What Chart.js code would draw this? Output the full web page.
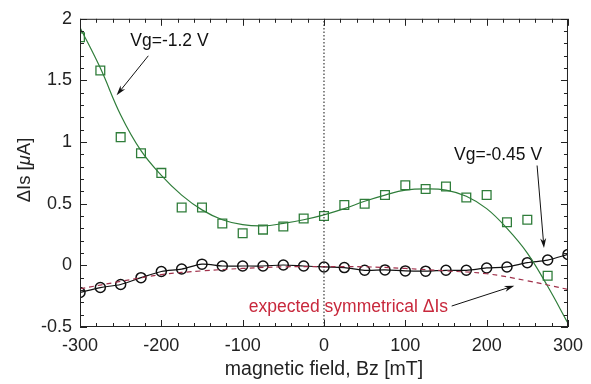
<!DOCTYPE html>
<html>
<head>
<meta charset="utf-8">
<script src="https://cdn.jsdelivr.net/npm/chart.js@4.4.1/dist/chart.umd.min.js"></script>
<style>
  html, body { margin: 0; padding: 0; background: #fff; }
  #wrap { width: 591px; height: 384px; }
</style>
</head>
<body>
<div id="wrap"><canvas id="chart" width="591" height="384"></canvas></div>
<script>
// magnetic field values (mT)
const fieldSquares = [-300, -275, -250, -225, -200, -175, -150, -125, -100, -75, -50, -25,
  0, 25, 50, 75, 100, 125, 150, 175, 200, 225, 250, 275];
const dIsVg12 = [1.85, 1.58, 1.04, 0.91, 0.75, 0.47, 0.47, 0.34, 0.26, 0.29, 0.315, 0.38,
  0.40, 0.49, 0.50, 0.57, 0.65, 0.62, 0.64, 0.55, 0.57, 0.35, 0.37, -0.085];

const fieldFit = [-300, -275, -250, -225, -200, -175, -150, -125, -100, -75, -50, -25,
  0, 25, 50, 75, 100, 125, 150, 175, 200, 225, 250, 275, 300];
const fitVg12 = [1.93, 1.60, 1.22, 0.93, 0.73, 0.57, 0.45, 0.37, 0.33, 0.32, 0.34, 0.37,
  0.41, 0.46, 0.52, 0.57, 0.61, 0.62, 0.61, 0.56, 0.46, 0.30, 0.10, -0.17, -0.47];

const fieldCircles = [-300, -275, -250, -225, -200, -175, -150, -125, -100, -75, -50, -25,
  0, 25, 50, 75, 100, 125, 150, 175, 200, 225, 250, 275, 300];
const dIsVg045 = [-0.22, -0.18, -0.155, -0.10, -0.05, -0.03, 0.01, -0.005, -0.005, -0.005, 0.003, -0.005,
  -0.013, -0.018, -0.04, -0.037, -0.045, -0.047, -0.04, -0.04, -0.021, -0.013, 0.022, 0.043, 0.089];

const fieldSym = [-300, -250, -200, -150, -100, -50, 0, 50, 100, 150, 200, 250, 300];
const expectedSym = [-0.19, -0.13, -0.075, -0.045, -0.025, -0.012, -0.01, -0.012, -0.025, -0.045, -0.068, -0.125, -0.195];

const xTicks = [-300, -200, -100, 0, 100, 200, 300];
const yTicks = [-0.5, 0, 0.5, 1, 1.5, 2];

// annotations in data units: label position, arrow tail, arrow head
const notes = [
  { text: 'Vg=-1.2 V', x: -190, y: 1.82, color: '#111', from: [-216, 1.70], to: [-255, 1.38] },
  { text: 'Vg=-0.45 V', x: 214, y: 0.89, color: '#111', from: [262, 0.81], to: [270.5, 0.14] },
  { text: 'expected symmetrical \u0394Is', x: 30, y: -0.34, color: '#c8283c', from: [157, -0.33], to: [234, -0.165] }
];

const pts = (xs, ys) => xs.map((x, i) => ({ x, y: ys[i] }));

const FONT = '"Liberation Sans", Arial, Helvetica, sans-serif';

const framePlugin = {
  id: 'frame',
  afterDatasetsDraw(chart) {
    const { ctx, chartArea: a, scales } = chart;
    const xs = scales.x, ys = scales.y;
    ctx.save();
    ctx.strokeStyle = '#222';
    ctx.lineWidth = 1;
    ctx.strokeRect(a.left + 0.5, a.top + 0.5, a.right - a.left - 1, a.bottom - a.top - 1);
    ctx.beginPath();
    for (let v = -300; v <= 300; v += 20) {
      const px = Math.round(xs.getPixelForValue(v)) + 0.5;
      const len = v % 100 === 0 ? 7 : 4;
      ctx.moveTo(px, a.bottom); ctx.lineTo(px, a.bottom - len);
      ctx.moveTo(px, a.top); ctx.lineTo(px, a.top + len);
    }
    for (let i = -5; i <= 20; i++) {
      const v = i / 10;
      const py = Math.round(ys.getPixelForValue(v)) + 0.5;
      const len = i % 5 === 0 ? 7 : 4;
      ctx.moveTo(a.left, py); ctx.lineTo(a.left + len, py);
      ctx.moveTo(a.right, py); ctx.lineTo(a.right - len, py);
    }
    ctx.stroke();

    // annotations
    ctx.font = '17.5px ' + FONT;
    ctx.textAlign = 'center';
    ctx.textBaseline = 'middle';
    notes.forEach(n => {
      ctx.fillStyle = n.color;
      ctx.fillText(n.text, xs.getPixelForValue(n.x), ys.getPixelForValue(n.y));
      const x1 = xs.getPixelForValue(n.from[0]), y1 = ys.getPixelForValue(n.from[1]);
      const x2 = xs.getPixelForValue(n.to[0]), y2 = ys.getPixelForValue(n.to[1]);
      const ang = Math.atan2(y2 - y1, x2 - x1);
      ctx.strokeStyle = '#111';
      ctx.fillStyle = '#111';
      ctx.lineWidth = 1;
      ctx.beginPath();
      ctx.moveTo(x1, y1);
      ctx.lineTo(x2 - 6 * Math.cos(ang), y2 - 6 * Math.sin(ang));
      ctx.stroke();
      ctx.beginPath();
      ctx.moveTo(x2, y2);
      ctx.lineTo(x2 - 10 * Math.cos(ang) + 3 * Math.sin(ang), y2 - 10 * Math.sin(ang) - 3 * Math.cos(ang));
      ctx.lineTo(x2 - 7 * Math.cos(ang), y2 - 7 * Math.sin(ang));
      ctx.lineTo(x2 - 10 * Math.cos(ang) - 3 * Math.sin(ang), y2 - 10 * Math.sin(ang) + 3 * Math.cos(ang));
      ctx.closePath();
      ctx.fill();
    });

    // axis titles
    ctx.fillStyle = '#222';
    ctx.font = '19.5px ' + FONT;
    ctx.textAlign = 'center';
    ctx.fillText('magnetic field, Bz [mT]', (a.left + a.right) / 2, 370);

    ctx.translate(25, 170);
    ctx.rotate(-Math.PI / 2);
    const parts = [['\u0394Is [', '18.5px '], ['\u03bc', 'italic 18.5px '], ['A]', '18.5px ']];
    let total = 0;
    parts.forEach(p => { ctx.font = p[1] + FONT; total += ctx.measureText(p[0]).width; });
    let cx = -total / 2;
    ctx.textAlign = 'left';
    parts.forEach(p => {
      ctx.font = p[1] + FONT;
      ctx.fillText(p[0], cx, 0);
      cx += ctx.measureText(p[0]).width;
    });
    ctx.restore();
  }
};

new Chart(document.getElementById('chart'), {
  type: 'scatter',
  data: {
    datasets: [
      {
        data: [{ x: 0, y: yTicks[0] }, { x: 0, y: yTicks[yTicks.length - 1] }],
        showLine: true, borderColor: '#111', borderWidth: 1, borderDash: [1.5, 2],
        pointRadius: 0
      },
      {
        data: pts(fieldSym, expectedSym),
        showLine: true, borderColor: '#a0304a', borderWidth: 1.2, borderDash: [5, 4],
        pointRadius: 0, tension: 0.4
      },
      {
        data: pts(fieldFit, fitVg12),
        showLine: true, borderColor: '#2f7d3a', borderWidth: 1.2,
        pointRadius: 0, tension: 0.4
      },
      {
        data: pts(fieldSquares, dIsVg12),
        pointStyle: 'rect', pointRadius: 6.2, borderColor: '#2f7d3a',
        backgroundColor: 'rgba(0,0,0,0)', borderWidth: 1.3
      },
      {
        data: pts(fieldCircles, dIsVg045),
        showLine: true, borderColor: '#111', borderWidth: 1.2, tension: 0.3,
        pointStyle: 'circle', pointRadius: 5, pointBorderWidth: 1.5,
        pointBorderColor: '#111', pointBackgroundColor: 'rgba(0,0,0,0)'
      }
    ]
  },
  options: {
    responsive: false,
    animation: false,
    layout: { padding: { top: 14, right: 23, left: 0, bottom: 0 } },
    plugins: { legend: { display: false }, tooltip: { enabled: false } },
    scales: {
      x: {
        type: 'linear', min: -300, max: 300,
        afterFit(s) { s.height = 57; },
        afterBuildTicks(s) { s.ticks = xTicks.map(v => ({ value: v })); },
        grid: { display: false, drawTicks: false },
        border: { display: false },
        ticks: { color: '#222', font: { size: 18, family: FONT }, padding: 8,
          callback: v => String(v) }
      },
      y: {
        type: 'linear', min: -0.5, max: 2,
        afterFit(s) { s.width = 80; },
        afterBuildTicks(s) { s.ticks = yTicks.map(v => ({ value: v })); },
        grid: { display: false, drawTicks: false },
        border: { display: false },
        ticks: { color: '#222', font: { size: 18, family: FONT }, padding: 8,
          callback: v => String(v) }
      }
    }
  },
  plugins: [framePlugin]
});
</script>
</body>
</html>
